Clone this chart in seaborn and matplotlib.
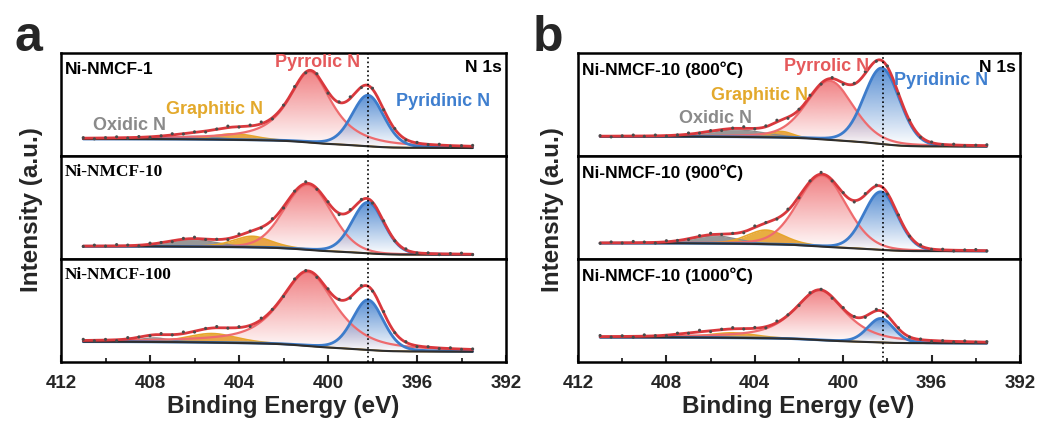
import numpy as np
import matplotlib
matplotlib.use("Agg")
import matplotlib.pyplot as plt
from matplotlib.colors import to_rgb
import seaborn as sns

# ---- data (intensity in arbitrary units, 0..103 per row) ----
components = ['Pyridinic N', 'Pyrrolic N', 'Graphitic N', 'Oxidic N']

# panel a: sample labels and fitted peaks (center eV, height, hwhm eV, lorentz fraction)
labels_a = ['Ni-NMCF-1', 'Ni-NMCF-10', 'Ni-NMCF-100']
bg_a = [(17.0, 8.0), (12.7, 4.3), (20.3, 10.3)]          # (high-BE level, low-BE level)
pyridinic_a = [(398.2, 51, 0.85, 0.2), (398.2, 51, 0.85, 0.15), (398.2, 50, 0.82, 0.2)]
pyrrolic_a = [(400.8, 71, 1.15, 0.8), (400.9, 65, 1.25, 0.1), (400.9, 74, 1.45, 0.7)]
graphitic_a = [(404.2, 6, 1.1, 0.3), (403.4, 11, 1.0, 0.4), (405.2, 9, 1.3, 0.3)]
oxidic_a = [(406.0, 3, 1.3, 0.2), (406.1, 7, 1.3, 0.1), (407.8, 4, 0.8, 0.2)]

# panel b
labels_b = ['Ni-NMCF-10 (800℃)', 'Ni-NMCF-10 (900℃)', 'Ni-NMCF-10 (1000℃)']
bg_b = [(19.5, 9.5), (15.8, 7.8), (24.7, 18.7)]
pyridinic_b = [(398.25, 76, 0.95, 0.1), (398.3, 58, 0.90, 0.1), (398.3, 24, 0.70, 0.15)]
pyrrolic_b = [(400.6, 59, 1.25, 0.3), (400.95, 71, 1.30, 0.15), (401.05, 50, 1.35, 0.7)]
graphitic_b = [(402.8, 6, 0.6, 0.1), (403.5, 14, 1.0, 0.3), (405.0, 5, 1.2, 0.2)]
oxidic_b = [(404.8, 7, 1.5, 0.1), (405.8, 7.5, 1.2, 0.1), (406.8, 2, 1.0, 0.1)]

# measured points: energies and deviation from the fitted envelope
point_energy = [411.0, 410.5, 410.0, 409.5, 409.0, 408.5, 408.0, 407.5, 407.0, 406.5,
                406.0, 405.5, 405.0, 404.5, 404.0, 403.5, 403.0, 402.5, 402.0, 401.5,
                401.0, 400.5, 400.0, 399.5, 399.0, 398.5, 398.0, 397.5, 397.0, 396.5,
                396.0, 395.5, 395.0, 394.5, 394.0, 393.5]
resid_row1 = [0.5, -0.8, 0.3, 1.0, -0.4, 0.8, -0.6, 0.2, 1.2, -0.3, 0.6, -1.0, 0.4, 1.5, -0.5, 0.9, 1.8, -1.2,
              0.6, 1.4, -0.8, 1.0, -1.5, 0.7, 1.6, -0.6, 0.9, -0.4, 0.5, -0.8, 0.6, -0.3, 0.8, -0.5, 0.3, 0.9]
resid_row2 = [-0.4, 0.9, -0.2, 1.3, 0.6, -0.7, 1.1, 0.2, -0.9, 0.8, 1.4, -0.5, 0.3, -1.1, 1.6, 0.4, -0.7, 1.2,
              -1.3, 0.5, 1.7, -0.9, 0.6, -1.4, 1.2, 0.8, -1.0, 0.4, -0.6, 0.9, -0.3, 0.7, -0.8, 0.5, 1.0, -0.4]
resid_row3 = [1.1, -0.5, 0.7, -0.9, 1.3, 0.2, -0.6, 1.0, -0.3, 1.6, -0.8, 0.5, 1.2, -0.4, 0.9, -1.2, 1.5, 0.3,
              -0.9, 1.1, 0.6, -1.3, 1.0, 0.4, -1.1, 1.4, -0.5, 0.8, -0.2, 0.6, -0.9, 0.4, -0.6, 0.8, -0.3, 0.5]

pyridinic_ref = 398.2

# ---- style ----
sns.set_theme(style="white")
plt.rcParams['font.family'] = ['Liberation Sans', 'Noto Sans CJK SC', 'DejaVu Sans']
plt.rcParams['font.weight'] = 'bold'

c_env = '#D9383D'
c_red = '#EE6B6E'
c_blue = '#3D7CCB'
c_orange = '#E6A52C'
c_gray = '#8C8C8C'
c_base = '#2E2E2E'


def pv(e, p):
    c, h, w, eta = p
    u = (e - c) / w
    return h * (eta / (1 + u ** 2) + (1 - eta) * np.exp(-np.log(2) * u ** 2))


def grad_fill(ax, x, y0, y1, color, z):
    poly = ax.fill_between(x, y0, y1, facecolor='none', edgecolor='none')
    rgba = np.zeros((120, 1, 4))
    rgba[..., :3] = to_rgb(color)
    rgba[:, 0, 3] = np.linspace(0.0, 0.85, 120)
    im = ax.imshow(rgba, extent=[x.min(), x.max(), y0.min(), y1.max()], origin='lower',
                   aspect='auto', zorder=z)
    im.set_clip_path(poly.get_paths()[0], transform=ax.transData)


def draw_row(ax, bg, peaks, resid):
    e = np.linspace(393.5, 411.0, 500)
    comps = [pv(e, p) for p in peaks]
    total = np.sum(comps, axis=0)
    cum = np.cumsum(total)
    base = bg[1] + (bg[0] - bg[1]) * cum / cum[-1]
    env = base + total

    pyr, pyl, gra, oxi = comps
    ax.fill_between(e, base, base + oxi, color=c_gray, alpha=0.9, lw=0, zorder=1)
    ax.fill_between(e, base, base + gra, color=c_orange, alpha=0.9, lw=0, zorder=2)
    grad_fill(ax, e, base, base + pyl, c_red, 3)
    grad_fill(ax, e, base, base + pyr, c_blue, 4)

    sns.lineplot(x=e, y=base + oxi, color=c_gray, lw=1.0, ax=ax, zorder=5)
    sns.lineplot(x=e, y=base + gra, color=c_orange, lw=1.2, ax=ax, zorder=5)
    sns.lineplot(x=e, y=base + pyl, color=c_red, lw=1.6, ax=ax, zorder=6)
    sns.lineplot(x=e, y=base + pyr, color=c_blue, lw=2.0, ax=ax, zorder=6)
    sns.lineplot(x=e, y=base, color=c_base, lw=1.5, ax=ax, zorder=7)
    sns.lineplot(x=e, y=env, color=c_env, lw=2.0, ax=ax, zorder=8)

    pe = np.array(point_energy)
    pt = np.interp(pe, e, env) + np.array(resid)
    sns.scatterplot(x=pe, y=pt, color='#4A4A4A', s=5, edgecolor='none', ax=ax, zorder=9)

    ax.axvline(pyridinic_ref, color='black', ls=':', lw=1.2, zorder=10)
    ax.set_xlim(412, 392)
    ax.set_ylim(0, 103)
    ax.set_yticks([])
    ax.set_xlabel('')
    ax.set_ylabel('')
    for s in ax.spines.values():
        s.set_linewidth(1.8)
        s.set_color('black')


fig = plt.figure(figsize=(10.38, 4.21), dpi=100)
W, H = 1038, 421
row_h = 103 / H
resids = [resid_row1, resid_row2, resid_row3]

panels = [
    (61, labels_a, bg_a, [pyridinic_a, pyrrolic_a, graphitic_a, oxidic_a], 445),
    (578, labels_b, bg_b, [pyridinic_b, pyrrolic_b, graphitic_b, oxidic_b], 442),
]

for pi, (left, labels, bgs, peak_sets, width) in enumerate(panels):
    axes = []
    for r in range(3):
        bottom = (59 + (2 - r) * 103) / H
        ax = fig.add_axes([left / W, bottom, width / W, row_h])
        peaks = [ps[r] for ps in peak_sets]
        draw_row(ax, bgs[r], peaks, resids[r])
        if r < 2:
            ax.tick_params(bottom=False, labelbottom=False)
        else:
            ax.set_xticks([412, 408, 404, 400, 396, 392])
            ax.set_xticks([410, 406, 402, 398, 394], minor=True)
            ax.tick_params(axis='x', which='major', direction='in', length=5, width=1.5,
                           bottom=True, labelsize=13.5, pad=9)
            ax.tick_params(axis='x', which='minor', direction='in', length=3, width=1.3, bottom=True)
            for t in ax.get_xticklabels():
                t.set_fontweight('bold')
        fam = ['Liberation Sans', 'Noto Sans CJK SC']
        if pi == 0 and r > 0:
            fam = ['Liberation Serif']
        ax.text(0.008, 0.84, labels[r], transform=ax.transAxes, ha='left', va='center',
                fontsize=12.5, fontweight='bold', family=fam, color='black', zorder=12)
        axes.append(ax)

    top = axes[0]
    top.text(0.99, 0.855, 'N 1s', transform=top.transAxes, ha='right', va='center',
             fontsize=12.5, fontweight='bold', color='black', zorder=12)

# component labels on the top rows (energy, axes-fraction y)
ax_a = fig.axes[0]
ax_a.text(400.45, 0.91, 'Pyrrolic N', transform=ax_a.get_xaxis_transform(), ha='center', va='center',
          fontsize=13, fontweight='bold', color='#E5595B', zorder=12)
ax_a.text(396.95, 0.53, 'Pyridinic N', transform=ax_a.get_xaxis_transform(), ha='left', va='center',
          fontsize=13, fontweight='bold', color='#3F7FCF', zorder=12)
ax_a.text(405.1, 0.45, 'Graphitic N', transform=ax_a.get_xaxis_transform(), ha='center', va='center',
          fontsize=13, fontweight='bold', color='#E3A92C', zorder=12)
ax_a.text(408.9, 0.30, 'Oxidic N', transform=ax_a.get_xaxis_transform(), ha='center', va='center',
          fontsize=13, fontweight='bold', color='#8A8A8A', zorder=12)

ax_b = fig.axes[3]
ax_b.text(400.74, 0.87, 'Pyrrolic N', transform=ax_b.get_xaxis_transform(), ha='center', va='center',
          fontsize=13, fontweight='bold', color='#E5595B', zorder=12)
ax_b.text(397.7, 0.73, 'Pyridinic N', transform=ax_b.get_xaxis_transform(), ha='left', va='center',
          fontsize=13, fontweight='bold', color='#3F7FCF', zorder=12)
ax_b.text(403.8, 0.59, 'Graphitic N', transform=ax_b.get_xaxis_transform(), ha='center', va='center',
          fontsize=13, fontweight='bold', color='#E3A92C', zorder=12)
ax_b.text(405.76, 0.36, 'Oxidic N', transform=ax_b.get_xaxis_transform(), ha='center', va='center',
          fontsize=13, fontweight='bold', color='#8A8A8A', zorder=12)

# axis titles and panel letters
for cx, ylx, letter, lx in [(283, 32, 'a', 28), (798, 553, 'b', 548)]:
    fig.text(cx / W, 1 - 406 / H, 'Binding Energy (eV)', ha='center', va='center',
             fontsize=17.5, fontweight='bold')
    fig.text(ylx / W, 1 - 210 / H, 'Intensity (a.u.)', ha='center', va='center',
             rotation=90, fontsize=17.5, fontweight='bold')
    fig.text(lx / W, 1 - 38 / H, letter, ha='center', va='center', fontsize=36, fontweight='bold')

fig.savefig('out.png', dpi=100)
